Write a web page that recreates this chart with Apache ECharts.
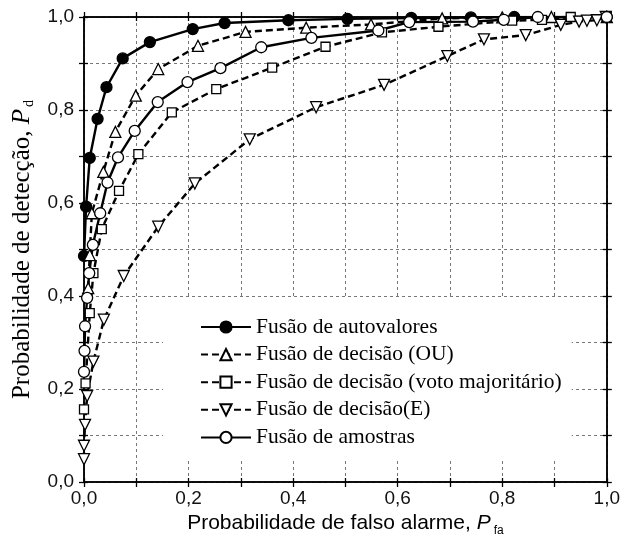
<!DOCTYPE html>
<html>
<head>
<meta charset="utf-8">
<script src="https://cdn.jsdelivr.net/npm/echarts@6/dist/echarts.min.js"></script>
<style>
html,body{margin:0;padding:0;background:#fff;}
#chart{width:623px;height:547px;}
</style>
</head>
<body>
<div id="chart"></div>
<script>
// ---- data ----
const seriesNames = [
  'Fusão de autovalores',
  'Fusão de decisão (OU)',
  'Fusão de decisão (voto majoritário)',
  'Fusão de decisão(E)',
  'Fusão de amostras'
];
const autovaloresX = [0.0, 0.004, 0.011, 0.026, 0.043, 0.074, 0.126, 0.208, 0.269, 0.391, 0.504, 0.626, 0.740, 0.823, 1.0];
const autovaloresY = [0.486, 0.592, 0.697, 0.781, 0.849, 0.911, 0.946, 0.974, 0.987, 0.993, 0.996, 0.998, 0.999, 1.0, 1.0];
const ouX = [0.008, 0.011, 0.015, 0.037, 0.060, 0.099, 0.142, 0.218, 0.309, 0.425, 0.549, 0.685, 0.800, 0.894, 1.0];
const ouY = [0.417, 0.488, 0.578, 0.667, 0.753, 0.831, 0.888, 0.938, 0.968, 0.977, 0.984, 0.997, 0.999, 1.0, 1.0];
const votoX = [0.0, 0.003, 0.011, 0.018, 0.034, 0.067, 0.104, 0.168, 0.253, 0.360, 0.462, 0.570, 0.678, 0.819, 0.876, 0.931, 1.0];
const votoY = [0.156, 0.212, 0.363, 0.449, 0.544, 0.626, 0.705, 0.795, 0.845, 0.891, 0.936, 0.967, 0.979, 0.992, 0.994, 1.0, 1.0];
const eX = [0.0, 0.0, 0.002, 0.006, 0.018, 0.038, 0.076, 0.142, 0.212, 0.317, 0.444, 0.574, 0.695, 0.765, 0.845, 0.912, 0.947, 0.962, 0.981, 0.998];
const eY = [0.049, 0.078, 0.123, 0.185, 0.259, 0.349, 0.443, 0.549, 0.642, 0.737, 0.806, 0.854, 0.916, 0.952, 0.961, 0.983, 0.990, 0.992, 0.993, 1.0];
const amostrasX = [0.0, 0.001, 0.002, 0.006, 0.010, 0.017, 0.031, 0.045, 0.065, 0.097, 0.141, 0.198, 0.261, 0.339, 0.435, 0.563, 0.622, 0.744, 0.803, 0.868, 1.0];
const amostrasY = [0.237, 0.282, 0.335, 0.396, 0.449, 0.510, 0.578, 0.644, 0.698, 0.755, 0.817, 0.860, 0.890, 0.935, 0.955, 0.971, 0.989, 0.990, 0.994, 1.0, 1.0];
const xTickLabels = ['0,0', '0,2', '0,4', '0,6', '0,8', '1,0'];
const yTickLabels = ['0,0', '0,2', '0,4', '0,6', '0,8', '1,0'];

function pairs(xs, ys) { return xs.map((x, i) => [x, ys[i]]); }
function tickFmt(labels) {
  return function (v) {
    const k = Math.round(v * 10);
    return k % 2 === 0 ? labels[k / 2] : '';
  };
}

const SANS = 'Liberation Sans';
const SERIF = 'Liberation Serif';
const axisLineStyle = { color: '#000', width: 1.5 };

function xAx(pos, inside, main) {
  return {
    type: 'value', min: 0, max: 1, interval: 0.1, position: pos,
    axisLine: { show: true, onZero: false, lineStyle: axisLineStyle },
    axisTick: { show: true, inside: inside, length: inside ? 4 : 5, lineStyle: { color: '#000', width: 1.3 } },
    axisLabel: main ? { show: true, formatter: tickFmt(xTickLabels), fontFamily: SANS, fontSize: 19, color: '#111', margin: 7 } : { show: false },
    splitLine: main ? { show: true, lineStyle: { color: '#777', width: 1, type: [3, 3] } } : { show: false },
    name: main ? 'Probabilidade de falso alarme, {i|P}{s|fa}' : '',
    nameLocation: 'middle', nameGap: 26,
    nameTextStyle: {
      fontFamily: SANS, fontSize: 21, color: '#000',
      rich: {
        i: { fontFamily: SANS, fontSize: 21, fontStyle: 'italic', color: '#000' },
        s: { fontFamily: SANS, fontSize: 12, color: '#000', padding: [15, 0, 0, 3] }
      }
    }
  };
}
function yAx(pos, inside, main) {
  return {
    type: 'value', min: 0, max: 1, interval: 0.1, position: pos,
    axisLine: { show: true, onZero: false, lineStyle: axisLineStyle },
    axisTick: { show: true, inside: inside, length: inside ? 4 : 5, lineStyle: { color: '#000', width: 1.3 } },
    axisLabel: main ? { show: true, formatter: tickFmt(yTickLabels), fontFamily: SANS, fontSize: 19, color: '#111', margin: 10 } : { show: false },
    splitLine: main ? { show: true, lineStyle: { color: '#777', width: 1, type: [3, 3] } } : { show: false },
    name: main ? 'Probabilidade de detecção, {i|P}{s|d}' : '',
    nameLocation: 'middle', nameGap: 47, nameRotate: 90,
    nameTextStyle: {
      fontFamily: SERIF, fontSize: 25, color: '#000',
      rich: {
        i: { fontFamily: SERIF, fontSize: 25, fontStyle: 'italic', color: '#000' },
        s: { fontFamily: SERIF, fontSize: 14, color: '#000', padding: [15, 0, 0, 2] }
      }
    }
  };
}

const solid = { color: '#000', width: 2.4, type: 'solid' };
const dashed = { color: '#000', width: 2.4, type: [7, 4] };

function mk(name, data, symbol, size, fill, line, rotate) {
  return {
    name: name, type: 'line', data: data, xAxisIndex: 0, yAxisIndex: 0,
    symbol: symbol, symbolSize: size, symbolRotate: rotate || 0, showSymbol: true, showAllSymbol: true,
    lineStyle: line,
    itemStyle: { color: fill, borderColor: '#000', borderWidth: 1.3 },
    emphasis: { disabled: true }, animation: false, z: 3
  };
}

const chart = echarts.init(document.getElementById('chart'), null, { renderer: 'canvas' });
chart.setOption({
  animation: false,
  backgroundColor: '#fff',
  grid: { left: 84, top: 17, width: 524, height: 465, containLabel: false },
  xAxis: [xAx('bottom', false, true), xAx('bottom', true, false), xAx('top', false, false), xAx('top', true, false)],
  yAxis: [yAx('left', false, true), yAx('left', true, false), yAx('right', false, false), yAx('right', true, false)],
  legend: {
    orient: 'vertical', left: 163, top: 298,
    padding: [18, 10, 12, 37],
    backgroundColor: '#fff',
    itemWidth: 50, itemHeight: 14, itemGap: 5.6,
    textStyle: { fontFamily: SERIF, fontSize: 21.5, color: '#000', lineHeight: 21 },
    data: seriesNames,
    z: 10
  },
  series: [
    mk(seriesNames[0], pairs(autovaloresX, autovaloresY), 'circle', 11, '#000', solid),
    mk(seriesNames[1], pairs(ouX, ouY), 'triangle', 11, '#fff', dashed),
    mk(seriesNames[2], pairs(votoX, votoY), 'rect', 9, '#fff', dashed),
    mk(seriesNames[3], pairs(eX, eY), 'triangle', 11, '#fff', dashed, 180),
    mk(seriesNames[4], pairs(amostrasX, amostrasY), 'circle', 11, '#fff', solid)
  ]
});
</script>
</body>
</html>
